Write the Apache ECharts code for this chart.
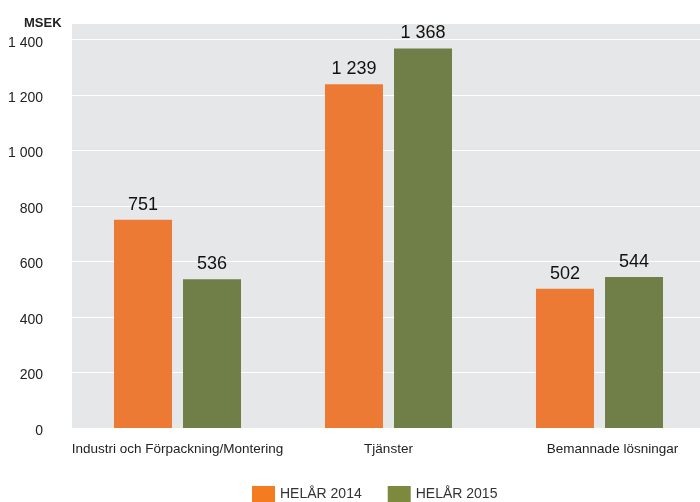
<!DOCTYPE html>
<html><head><meta charset="utf-8">
<script src="https://cdn.jsdelivr.net/npm/echarts@6/dist/echarts.min.js"></script>
<style>html,body{margin:0;padding:0;background:#fff}#c{width:700px;height:502px}</style>
</head><body><div id="c"></div>
<script>
const categories = ['Industri och Förpackning/Montering', 'Tjänster', 'Bemannade lösningar'];
const series2014 = [751, 1239, 502];
const series2015 = [536, 1368, 544];
const seriesNames = ['HELÅR 2014', 'HELÅR 2015'];
const yTicks = [0, 200, 400, 600, 800, 1000, 1200, 1400];

function fmt(v){ return String(v).replace(/\B(?=(\d{3})+(?!\d))/g, ' '); }
const font = 'Liberation Sans, Arial, sans-serif';
const chart = echarts.init(document.getElementById('c'));
chart.setOption({
  animation: false,
  title: { text: 'MSEK', left: 19, top: 12, textStyle: { fontFamily: font, fontSize: 13, fontWeight: 'bold', color: '#222' } },
  grid: { left: 72, width: 633, top: 23, bottom: 74, show: true, backgroundColor: '#e6e7e8', borderWidth: 0, outerBoundsMode: 'none', containLabel: false },
  legend: {
    top: 481, left: 247, itemWidth: 23, itemHeight: 16, itemGap: 26, icon: 'rect',
    textStyle: { fontFamily: font, fontSize: 14, color: '#333' },
    data: [
      { name: seriesNames[0], itemStyle: { color: '#f47b20' } },
      { name: seriesNames[1], itemStyle: { color: '#7d8a3e' } }
    ]
  },
  xAxis: {
    type: 'category', data: categories,
    axisLine: { show: false }, axisTick: { show: false },
    axisLabel: { fontFamily: font, fontSize: 13.5, color: '#222', margin: 14, interval: 0,
      formatter: (v, i) => i === 2 ? '{s|' + v + '}' : v,
      rich: { s: { fontFamily: font, fontSize: 13.5, color: '#222', padding: [0, 0, 0, 26] } } }
  },
  yAxis: {
    type: 'value', min: 0, max: 1460, interval: 200,
    axisLine: { show: false }, axisTick: { show: false },
    splitLine: { lineStyle: { color: '#ffffff', width: 1 } },
    axisLabel: { fontFamily: font, fontSize: 14, color: '#222', margin: 29, verticalAlign: 'top', lineHeight: 14, padding: [-4, 0, 0, 0],
      formatter: v => yTicks.includes(v) ? fmt(v) : '' }
  },
  series: [
    { name: seriesNames[0], type: 'bar', data: series2014, barWidth: 58, barGap: '19%',
      itemStyle: { color: '#ec7a35' },
      label: { show: true, position: 'top', distance: 6, fontFamily: font, fontSize: 18, color: '#111', formatter: p => fmt(p.value) } },
    { name: seriesNames[1], type: 'bar', data: series2015, barWidth: 58,
      itemStyle: { color: '#6f7f47' },
      label: { show: true, position: 'top', distance: 6, fontFamily: font, fontSize: 18, color: '#111', formatter: p => fmt(p.value) } }
  ]
});
</script></body></html>
